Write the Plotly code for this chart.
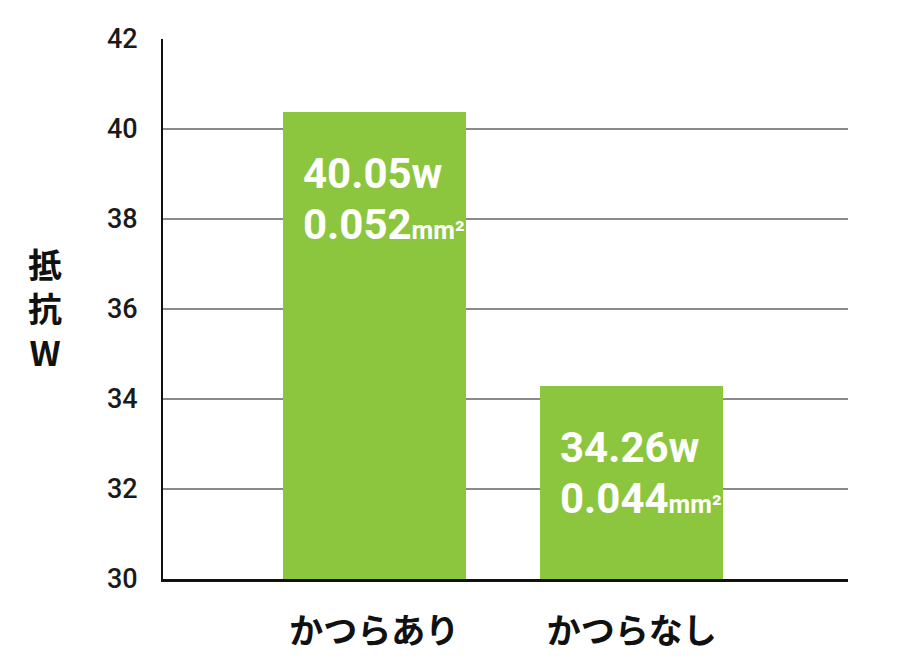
import plotly.graph_objects as go

categories = ["かつらあり", "かつらなし"]
bar_values = [40.37, 34.28]
value_labels = ["40.05w", "34.26w"]
area_numbers = ["0.052", "0.044"]
area_unit = "mm"
y_ticks = [30, 32, 34, 36, 38, 40, 42]

GREEN = "#8cc63f"
COND = "Roboto, Liberation Sans, sans-serif"

fig = go.Figure()
fig.add_trace(go.Bar(
    x=[0, 1], y=bar_values, width=0.71,
    marker=dict(color=GREEN, line=dict(width=0)),
    hoverinfo="skip",
))

for i, (v, t1, n2) in enumerate(zip(bar_values, value_labels, area_numbers)):
    fig.add_annotation(x=i - 0.285, y=v, xref="x", yref="y", text=f"<b>{t1}</b>",
                       showarrow=False, xanchor="left", yanchor="middle", yshift=-61,
                       font=dict(family=COND, size=42, color="white"))
    t2 = (f"<b>{n2}<span style='font-size:25px'>{area_unit}</span>"
          f"<span style='font-size:26px'>²</span></b>")
    fig.add_annotation(x=i - 0.285, y=v, xref="x", yref="y", text=t2,
                       showarrow=False, xanchor="left", yanchor="middle", yshift=-112,
                       font=dict(family=COND, size=42, color="white"))

fig.add_annotation(x=-0.172, y=0.502, xref="paper", yref="paper",
                   text="<b>抵<br>抗<br>W</b>", showarrow=False,
                   xanchor="center", yanchor="middle",
                   font=dict(family="Noto Sans CJK JP", size=34, color="#111"))

fig.update_layout(
    width=892, height=657,
    margin=dict(l=155, r=52, t=31, b=86),
    paper_bgcolor="white", plot_bgcolor="white",
    showlegend=False,
    bargap=0,
)
fig.update_xaxes(
    range=[-0.82, 1.84],
    tickmode="array", tickvals=[0, 1], ticktext=categories,
    tickfont=dict(family="Noto Sans CJK JP", size=34, color="#111", weight=700),
    ticks="", ticklabelstandoff=20,
    showline=True, linecolor="#111", linewidth=3,
    showgrid=False, zeroline=False,
)
fig.update_yaxes(
    range=[30, 42], tickvals=y_ticks,
    tickfont=dict(family="Roboto", size=27, color="#1a1a1a", weight=500),
    ticks="", ticklabelstandoff=18,
    showline=True, linecolor="#111", linewidth=2,
    showgrid=True, gridcolor="#8a8a8a", gridwidth=1.5,
    zeroline=False,
)

fig.write_html("out.html")
